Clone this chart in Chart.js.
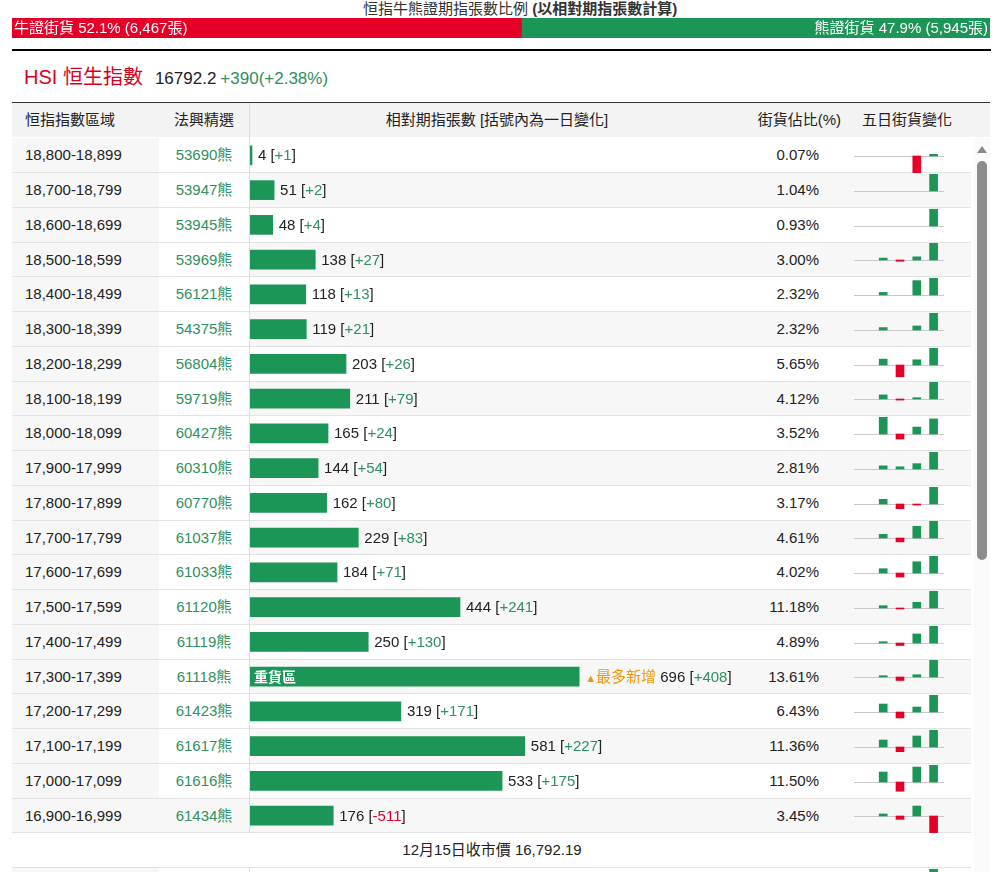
<!DOCTYPE html>
<html>
<head>
<meta charset="utf-8">
<script src="https://cdn.jsdelivr.net/npm/chart.js@4.4.1/dist/chart.umd.min.js"></script>
<style>
body { margin: 0; background: #fff; }
#page { position: relative; width: 998px; height: 872px; overflow: hidden;
  font-family: "Liberation Sans", Arial, "Noto Sans CJK TC", sans-serif; font-size: 15px; color: #222; }
.abs { position: absolute; white-space: nowrap; }
.up { color: #2f9060; }
.down { color: #e0002a; }
</style>
</head>
<body>
<div id="page"></div>
<script>
// 牛熊街貨 (張)
const bullBear = [6467, 5945];
const bullBearPct = [52.1, 47.9];

// 恒指區域 / 法興精選 / 相對期指張數 / 一日變化 / 街貨佔比
const ranges = ["18,800-18,899", "18,700-18,799", "18,600-18,699", "18,500-18,599", "18,400-18,499",
  "18,300-18,399", "18,200-18,299", "18,100-18,199", "18,000-18,099", "17,900-17,999",
  "17,800-17,899", "17,700-17,799", "17,600-17,699", "17,500-17,599", "17,400-17,499",
  "17,300-17,399", "17,200-17,299", "17,100-17,199", "17,000-17,099", "16,900-16,999"];
const codes = ["53690", "53947", "53945", "53969", "56121", "54375", "56804", "59719", "60427", "60310",
  "60770", "61037", "61033", "61120", "61119", "61118", "61423", "61617", "61616", "61434"];
const contracts = [4, 51, 48, 138, 118, 119, 203, 211, 165, 144, 162, 229, 184, 444, 250, 696, 319, 581, 533, 176];
const dayChange = [1, 2, 4, 27, 13, 21, 26, 79, 24, 54, 80, 83, 71, 241, 130, 408, 171, 227, 175, -511];
const shares = [0.07, 1.04, 0.93, 3.00, 2.32, 2.32, 5.65, 4.12, 3.52, 2.81, 3.17, 4.61, 4.02, 11.18, 4.89,
  13.61, 6.43, 11.36, 11.50, 3.45];

// 五日街貨變化
const fiveDayLabels = ["D1", "D2", "D3", "D4", "D5"];
const fiveDay = [
  [0, 0, 0, -10, 1], [0, 0, 0, 0, 2], [0, 0, 0, 0, 4], [0, 3, -2, 5, 27], [0, 2, 0, 11, 13],
  [0, 3, 0, 5, 21], [0, 9, -18, 8, 26], [0, 19, -5, 6, 79], [0, 27, -8, 11, 24], [0, 10, 7, 17, 54],
  [0, 22, -22, -5, 80], [0, 18, -19, 57, 83], [0, 18, -17, 47, 71], [0, 33, -14, 81, 241], [0, 10, -19, 69, 130],
  [0, 31, -84, 55, 408], [0, 80, -60, 50, 171], [0, 93, -62, 147, 227], [0, 103, -95, 154, 175], [0, 60, -100, 300, -511]
];
const nextRowFiveDay = [0, 0, 0, 0, 1];   // 16,800-16,899 (only top of last bar visible)

const closeText = "12月15日收市價 16,792.19";

const GREEN = "#1b9656";
const RED = "#e60028";
const ROW_TOP = 138.3, ROW_H = 34.75;

const page = document.getElementById("page");
function box(left, top, width, height, css, html) {
  const d = document.createElement("div");
  d.className = "abs";
  d.style.left = left + "px";
  d.style.top = top + "px";
  if (width != null) d.style.width = width + "px";
  if (height != null) d.style.height = height + "px";
  if (css) d.style.cssText += css;
  if (html != null) d.innerHTML = html;
  page.appendChild(d);
  return d;
}
function rowTop(i) { return ROW_TOP + i * ROW_H; }

// title + bull/bear ratio bar
box(363, 0, null, 18, "line-height:18px;color:#333;",
  "恒指牛熊證期指張數比例 <b>(以相對期指張數計算)</b>");

const bbWrap = box(12, 18, 978, 20);
const bbCanvas = document.createElement("canvas");
bbWrap.appendChild(bbCanvas);
new Chart(bbCanvas, {
  type: "bar",
  data: {
    labels: ["HSI"],
    datasets: [
      { data: [bullBear[0]], backgroundColor: RED },
      { data: [bullBear[1]], backgroundColor: GREEN }
    ]
  },
  options: {
    indexAxis: "y",
    responsive: true,
    maintainAspectRatio: false,
    animation: false,
    events: [],
    datasets: { bar: { barPercentage: 1, categoryPercentage: 1 } },
    layout: { padding: 0 },
    plugins: { legend: { display: false }, tooltip: { enabled: false } },
    scales: {
      x: { display: false, stacked: true, min: 0, max: bullBear[0] + bullBear[1] },
      y: { display: false, stacked: true }
    }
  }
});
const fmt = n => n.toLocaleString("en-US");
box(14, 18, null, 20, "line-height:20px;color:#fff;",
  `牛證街貨 ${bullBearPct[0]}% (${fmt(bullBear[0])}張)`);
box(590, 18, 398, 20, "line-height:20px;color:#fff;text-align:right;",
  `熊證街貨 ${bullBearPct[1]}% (${fmt(bullBear[1])}張)`);

box(12, 49, 979, 2, "background:#000;");

// HSI line
box(24, 63, null, 28, "line-height:28px;",
  '<span style="font-size:20px;color:#d9001f">HSI 恒生指數</span>' +
  '<span style="font-size:17px;margin-left:12px">16792.2</span>' +
  '<span class="up" style="font-size:17px;margin-left:4px">+390(+2.38%)</span>');

// table header
box(12, 102, 978, 1, "background:#333;");
box(12, 103, 978, 34.3, "background:#f3f3f3;");
const hcss = "line-height:34px;";
box(25, 103, null, 34, hcss, "恒指指數區域");
box(159, 103, 90, 34, hcss + "text-align:center;", "法興精選");
box(249, 103, 496, 34, hcss + "text-align:center;", "相對期指張數 [括號內為一日變化]");
box(700, 103, 141, 34, hcss + "text-align:right;", "街貨佔比(%)");
box(854, 103, 106, 34, hcss + "text-align:center;", "五日街貨變化");

// rows
const rcss = `line-height:${ROW_H}px;`;
ranges.forEach((r, i) => {
  const t = rowTop(i);
  box(12, t, 147, ROW_H, "background:#f7f7f7;");
  if (i % 2 === 1) box(i === ranges.length - 1 ? 159 : 249, t, i === ranges.length - 1 ? 812 : 722, ROW_H, "background:#f7f7f7;");
  box(12, t + ROW_H - 1, 959, 1, "background:#e3e3e3;");
  box(25, t, null, ROW_H, rcss, r);
  box(159, t, 90, ROW_H, rcss + "text-align:center;color:#2f9060;", codes[i] + "熊");
  box(719, t, 100, ROW_H, rcss + "text-align:right;", shares[i].toFixed(2) + "%");
});
box(249, 103, 1, rowTop(ranges.length) - 103, "background:#dcdcdc;");

// close price row + partially visible next row
const closeTop = rowTop(ranges.length);
box(12, closeTop, 960, ROW_H, rcss + "text-align:center;", closeText);
box(12, closeTop + ROW_H - 1, 959, 1, "background:#e3e3e3;");
box(12, closeTop + ROW_H, 147, ROW_H, "background:#f7f7f7;");
box(249, closeTop + ROW_H, 1, ROW_H, "background:#dcdcdc;");

// main horizontal bar chart
const mainWrap = box(250, ROW_TOP, 473, ROW_H * ranges.length);
const mainCanvas = document.createElement("canvas");
mainWrap.appendChild(mainCanvas);
const mainChart = new Chart(mainCanvas, {
  type: "bar",
  data: {
    labels: ranges,
    datasets: [{ data: contracts, backgroundColor: GREEN, barThickness: 19, minBarLength: 2 }]
  },
  options: {
    indexAxis: "y",
    responsive: true,
    maintainAspectRatio: false,
    animation: false,
    events: [],
    layout: { padding: 0 },
    plugins: { legend: { display: false }, tooltip: { enabled: false } },
    scales: {
      x: { display: false, min: 0, max: 1000 },
      y: { display: false }
    }
  }
});

// bar value labels, placed from the chart's own scale
const maxIdx = contracts.indexOf(Math.max(...contracts));
contracts.forEach((v, i) => {
  const x = 250 + mainChart.scales.x.getPixelForValue(v) + 6;
  const chg = dayChange[i];
  const chgTxt = `<span class="${chg < 0 ? "down" : "up"}">${chg < 0 ? chg : "+" + chg}</span>`;
  let html = `${v} [${chgTxt}]`;
  if (i === maxIdx) {
    html = '<span style="color:#f0960f"><span style="font-size:11px">▲</span>最多新增</span> ' + html;
    box(254, rowTop(i), null, ROW_H, rcss + "color:#fff;font-weight:bold;font-size:14px;", "重貨區");
  }
  box(x, rowTop(i), null, ROW_H, rcss, html);
});

// five-day mini charts
const baselinePlugin = {
  id: "baseline",
  beforeDatasetsDraw(chart) {
    const y = Math.round(chart.scales.y.getPixelForValue(0)) + 0.5;
    const ctx = chart.ctx;
    ctx.save();
    ctx.strokeStyle = "#c8c8c8";
    ctx.lineWidth = 1;
    ctx.beginPath();
    ctx.moveTo(0, y);
    ctx.lineTo(chart.width, y);
    ctx.stroke();
    ctx.restore();
  }
};
function miniChart(vals, i) {
  const center = rowTop(i) + ROW_H / 2 + 0.5;
  const wrap = box(854, center - 17, 90, 34);
  const cv = document.createElement("canvas");
  wrap.appendChild(cv);
  const m = Math.max(...vals.map(Math.abs)) || 1;
  new Chart(cv, {
    type: "bar",
    data: {
      labels: fiveDayLabels,
      // zero days are left out so no hairline bar is drawn
      datasets: [{ data: vals.map(v => v === 0 ? null : v),
        backgroundColor: vals.map(v => v < 0 ? RED : GREEN), barThickness: 8 }]
    },
    options: {
      responsive: true,
      maintainAspectRatio: false,
      animation: false,
      events: [],
      layout: { padding: { left: 4, right: 2, top: 0, bottom: 0 } },
      plugins: { legend: { display: false }, tooltip: { enabled: false } },
      scales: {
        x: { display: false },
        y: { display: false, min: -m, max: m }
      }
    },
    plugins: [baselinePlugin]
  });
}
fiveDay.forEach((vals, i) => miniChart(vals, i));
miniChart(nextRowFiveDay, ranges.length + 1);

// scrollbar look
box(974, 138, 16, 734, "background:#fafafa;");
box(977, 146, 0, 0, "border-left:5px solid transparent;border-right:5px solid transparent;border-bottom:7px solid #8a8a8a;");
box(976.5, 161, 10.5, 399, "background:#8c8c8c;border-radius:5px;");
</script>
</body>
</html>
